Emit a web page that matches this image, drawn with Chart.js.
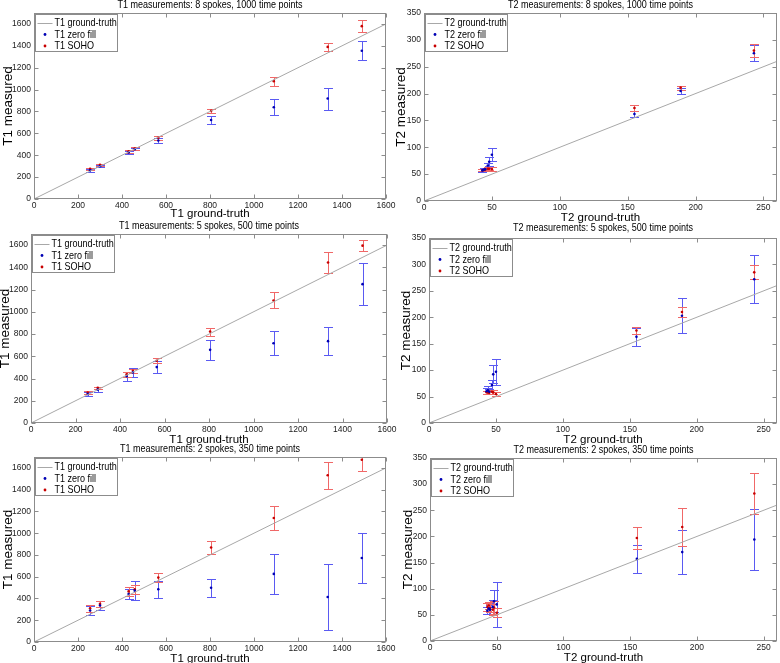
<!DOCTYPE html>
<html lang="en">
<head>
<meta charset="UTF-8">
<title>T1 / T2 measurements</title>
<script src="https://cdn.jsdelivr.net/npm/chart.js"></script>
<style>
  body { margin: 0; background: #fff; width: 780px; height: 663px; overflow: hidden; position: relative; }
  canvas { position: absolute; }
</style>
</head>
<body>
<script>
// ground-truth values of the nine vials
const t1Truth = [255, 300, 430, 458, 565, 805, 1090, 1335, 1490];
const t2Truth = [43, 44, 45, 47, 48, 50, 155, 189, 243];
const t1Line = [0, 1600];
const t2Line = [0, 260];

// 8 spokes, 1000 time points
const t1Zero8 = [262, 300, 425, 455, 535, 722, 838, 918, 1355];
const t1Zero8Err = [12, 10, 12, 10, 22, 38, 72, 100, 88];
const t1Soho8 = [275, 312, 435, 462, 560, 805, 1077, 1390, 1580];
const t1Soho8Err = [12, 12, 10, 10, 18, 21, 40, 37, 58];
const t2Zero8 = [57, 58, 59, 66, 73, 86, 162, 205, 275];
const t2Zero8Err = [3, 3, 3, 5, 8, 12, 6, 6, 15];
const t2Soho8 = [57, 58, 58, 60, 60, 59, 173, 211, 280];
const t2Soho8Err = [2, 2, 2, 3, 3, 4, 5, 4, 12];

// 5 spokes, 500 time points
const t1Zero5 = [260, 300, 420, 455, 503, 658, 718, 736, 1249];
const t1Zero5Err = [20, 22, 40, 38, 55, 92, 108, 125, 190];
const t1Soho5 = [273, 316, 438, 470, 560, 822, 1102, 1444, 1595];
const t1Soho5Err = [12, 10, 25, 18, 22, 35, 72, 94, 51];
const t2Zero5 = [60, 62, 59, 72, 92, 97, 163, 203, 272];
const t2Zero5Err = [6, 8, 5, 10, 17, 25, 17, 33, 45];
const t2Soho5 = [58, 58, 57, 59, 58, 55, 175, 210, 285];
const t2Soho5Err = [3, 3, 3, 4, 4, 4, 7, 10, 13];

// 2 spokes, 350 time points
const t1Zero2 = [290, 335, 440, 472, 485, 498, 626, 413, 772];
const t1Zero2Err = [45, 42, 45, 85, 78, 80, 185, 307, 228];
const t1Soho2 = [310, 350, 465, 485, 592, 868, 1140, 1532, 1675];
const t1Soho2Err = [30, 30, 40, 42, 40, 56, 114, 124, 100];
const t2Zero2 = [58, 62, 60, 65, 76, 70, 157, 170, 194];
const t2Zero2Err = [7, 10, 8, 14, 21, 43, 27, 42, 58];
const t2Soho2 = [65, 68, 63, 60, 64, 54, 197, 218, 282];
const t2Soho2Err = [8, 6, 8, 10, 12, 9, 21, 37, 40];

const sans = "'Liberation Sans', Arial, sans-serif";
const frameColor = '#8c8c8c';
const squeeze = 0.82;   // the source figure has narrow lettering

// where each axes box sits on the page
const panels = [
  { q: 'T1', title: 'T1 measurements: 8 spokes, 1000 time points', zero: t1Zero8, zeroErr: t1Zero8Err, soho: t1Soho8, sohoErr: t1Soho8Err,
    x: 0, y: 0, yw: 34, plotW: 352, top: 13, plotH: 186, xh: 22, titleY: 5 },
  { q: 'T2', title: 'T2 measurements: 8 spokes, 1000 time points', zero: t2Zero8, zeroErr: t2Zero8Err, soho: t2Soho8, sohoErr: t2Soho8Err,
    x: 393, y: 0, yw: 31, plotW: 353, top: 13, plotH: 188, xh: 24, titleY: 5 },
  { q: 'T1', title: 'T1 measurements: 5 spokes, 500 time points', zero: t1Zero5, zeroErr: t1Zero5Err, soho: t1Soho5, sohoErr: t1Soho5Err,
    x: -3, y: 221, yw: 34, plotW: 356, top: 13, plotH: 189, xh: 24, titleY: 5 },
  { q: 'T2', title: 'T2 measurements: 5 spokes, 500 time points', zero: t2Zero5, zeroErr: t2Zero5Err, soho: t2Soho5, sohoErr: t2Soho5Err,
    x: 398, y: 222, yw: 31, plotW: 348, top: 16, plotH: 185, xh: 24, titleY: 6 },
  { q: 'T1', title: 'T1 measurements: 2 spokes, 350 time points', zero: t1Zero2, zeroErr: t1Zero2Err, soho: t1Soho2, sohoErr: t1Soho2Err,
    x: 0, y: 444, yw: 34, plotW: 352, top: 13, plotH: 185, xh: 24, titleY: 5 },
  { q: 'T2', title: 'T2 measurements: 2 spokes, 350 time points', zero: t2Zero2, zeroErr: t2Zero2Err, soho: t2Soho2, sohoErr: t2Soho2Err,
    x: 400, y: 445, yw: 30, plotW: 347, top: 13, plotH: 183, xh: 24, titleY: 5 }
];

// vertical error bars with caps, behind the dots
const errorBars = {
  id: 'errorBars',
  beforeDatasetsDraw(chart) {
    const { ctx, chartArea: a, scales: { x, y } } = chart;
    ctx.save();
    ctx.beginPath();
    ctx.rect(a.left, a.top, a.width, a.height);
    ctx.clip();
    chart.data.datasets.forEach(ds => {
      if (!ds.errors) return;
      ctx.strokeStyle = ds.barColor;
      ctx.lineWidth = 1;
      ds.data.forEach((pt, i) => {
        const px = Math.round(x.getPixelForValue(pt.x)) + 0.5;
        const top = Math.round(y.getPixelForValue(pt.y + ds.errors[i])) + 0.5;
        const bot = Math.round(y.getPixelForValue(pt.y - ds.errors[i])) + 0.5;
        ctx.beginPath();
        ctx.moveTo(px, top); ctx.lineTo(px, bot);
        ctx.moveTo(px - 4.5, top); ctx.lineTo(px + 4.5, top);
        ctx.moveTo(px - 4.5, bot); ctx.lineTo(px + 4.5, bot);
        ctx.stroke();
      });
    });
    ctx.restore();
  }
};

function narrowText(ctx, text, x, y) {
  ctx.save();
  ctx.translate(x, y);
  ctx.scale(squeeze, 1);
  ctx.fillText(text, 0, 0);
  ctx.restore();
}

// matlab-like box, inward ticks, title and legend
const axesDecor = {
  id: 'axesDecor',
  afterDraw(chart, args, opts) {
    const { ctx, chartArea: a, scales: { x, y } } = chart;
    ctx.save();
    ctx.strokeStyle = frameColor;
    ctx.lineWidth = 1;
    const L = a.left + 0.5, R = a.right - 0.5, T = a.top + 0.5, B = a.bottom - 0.5;
    ctx.strokeRect(L, T, R - L, B - T);
    ctx.beginPath();
    x.ticks.forEach(t => {
      const px = Math.round(x.getPixelForValue(t.value)) + 0.5;
      ctx.moveTo(px, B); ctx.lineTo(px, B - 4);
      ctx.moveTo(px, T); ctx.lineTo(px, T + 4);
    });
    y.ticks.forEach(t => {
      const py = Math.round(y.getPixelForValue(t.value)) + 0.5;
      ctx.moveTo(L, py); ctx.lineTo(L + 4, py);
      ctx.moveTo(R, py); ctx.lineTo(R - 4, py);
    });
    ctx.stroke();

    // title
    ctx.fillStyle = '#000';
    ctx.font = '11px ' + sans;
    ctx.textAlign = 'center';
    ctx.textBaseline = 'middle';
    narrowText(ctx, opts.text, (a.left + a.right) / 2, opts.y);

    // legend
    const lx = Math.round(a.left) + 1.5, ly = Math.round(a.top) + 1.5;
    ctx.fillStyle = '#fff';
    ctx.fillRect(lx, ly, 82, 37);
    ctx.strokeStyle = frameColor;
    ctx.strokeRect(lx, ly, 82, 37);
    ctx.textAlign = 'left';
    chart.data.datasets.forEach((ds, i) => {
      const ry = ly + 8.5 + i * 11.5;
      if (ds.showLine) {
        ctx.strokeStyle = ds.borderColor;
        ctx.beginPath();
        ctx.moveTo(lx + 2, Math.round(ry) + 0.5);
        ctx.lineTo(lx + 17, Math.round(ry) + 0.5);
        ctx.stroke();
      } else {
        ctx.fillStyle = ds.backgroundColor;
        ctx.beginPath();
        ctx.arc(lx + 9.5, ry, 1.4, 0, Math.PI * 2);
        ctx.fill();
      }
      ctx.fillStyle = '#000';
      narrowText(ctx, ds.label, lx + 19, ry);
    });
    ctx.restore();
  }
};

function drawPanel(p) {
  const c = document.createElement('canvas');
  c.width = 2 * p.yw + p.plotW;
  c.height = p.top + p.plotH + p.xh;
  c.style.left = p.x + 'px';
  c.style.top = p.y + 'px';
  document.body.appendChild(c);

  const isT1 = p.q === 'T1';
  const truth = isT1 ? t1Truth : t2Truth;
  const line = isT1 ? t1Line : t2Line;
  const pts = vals => truth.map((v, i) => ({ x: v, y: vals[i] }));
  const tickFont = { family: sans, size: 8.5 };
  const plain = v => String(v);

  new Chart(c, {
    type: 'scatter',
    data: {
      datasets: [
        { label: p.q + ' ground-truth', type: 'line', showLine: true, data: line.map(v => ({ x: v, y: v })),
          borderColor: '#a8a8a8', borderWidth: 1, pointRadius: 0 },
        { label: p.q + ' zero fill', data: pts(p.zero), errors: p.zeroErr, barColor: '#5a5af2',
          backgroundColor: '#0000b4', pointRadius: 1.3, pointBorderWidth: 0 },
        { label: p.q + ' SOHO', data: pts(p.soho), errors: p.sohoErr, barColor: '#f06868',
          backgroundColor: '#c80000', pointRadius: 1.3, pointBorderWidth: 0 }
      ]
    },
    options: {
      responsive: false,
      animation: false,
      devicePixelRatio: 1,
      layout: { padding: { left: 0, right: p.yw, top: p.top, bottom: 0 } },
      plugins: {
        legend: { display: false },
        tooltip: { enabled: false },
        axesDecor: { text: p.title, y: p.titleY }
      },
      scales: {
        x: {
          type: 'linear', min: 0, max: isT1 ? 1600 : 260,
          border: { display: false },
          grid: { display: false, drawTicks: false },
          ticks: { stepSize: isT1 ? 200 : 50, includeBounds: false, autoSkip: false, maxRotation: 0,
                   padding: 2, color: '#222', font: tickFont, callback: plain },
          title: { display: true, text: p.q + ' ground-truth', color: '#000', padding: 0,
                   font: { family: sans, size: 11.5 } },
          afterFit: s => { s.height = p.xh; s.paddingLeft = 0; s.paddingRight = 0; }
        },
        y: {
          type: 'linear', min: 0, max: isT1 ? 1700 : 350,
          border: { display: false },
          grid: { display: false, drawTicks: false },
          ticks: { stepSize: isT1 ? 200 : 50, includeBounds: false, autoSkip: false,
                   padding: 3, color: '#222', font: tickFont, callback: plain },
          title: { display: true, text: p.q + ' measured', color: '#000', padding: 0,
                   font: { family: sans, size: 13.5 } },
          afterFit: s => { s.width = p.yw; s.paddingTop = 0; s.paddingBottom = 0; }
        }
      }
    },
    plugins: [errorBars, axesDecor]
  });
}

panels.forEach(drawPanel);
</script>
</body>
</html>
